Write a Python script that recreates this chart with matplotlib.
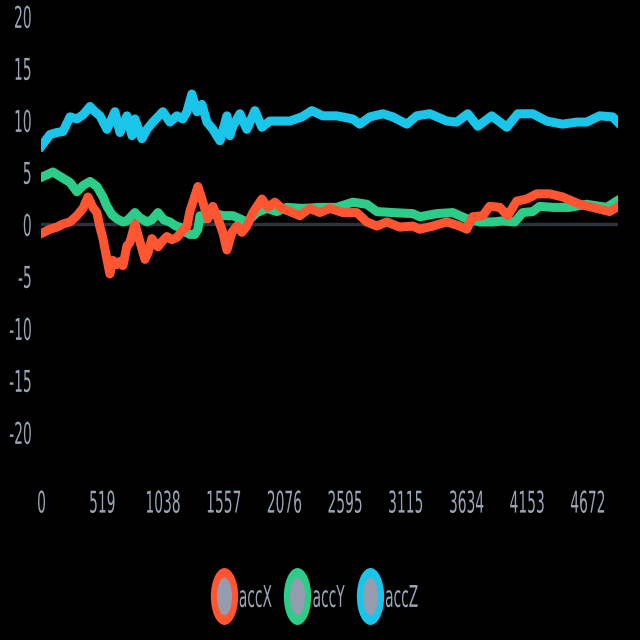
import matplotlib
matplotlib.use('Agg')
import matplotlib.pyplot as plt
from matplotlib import patheffects
from matplotlib.path import Path
from matplotlib.lines import Line2D
from matplotlib.legend_handler import HandlerTuple
from matplotlib.transforms import Affine2D

plt.rcParams['font.family'] = ['DejaVu Sans']
plt.rcParams['axes.unicode_minus'] = False


class Squeeze(patheffects.AbstractPathEffect):
    """把文字壓窄拉高 (原圖的字是被縮放過的)"""
    def __init__(self, sx=0.83, sy=1.8, anchor='center'):
        super().__init__()
        self.sx, self.sy, self.anchor = sx, sy, anchor

    def draw_path(self, renderer, gc, tpath, affine, rgbFace=None):
        ext = tpath.get_extents(affine)
        if self.anchor == 'right':
            cx = ext.x1
        elif self.anchor == 'left':
            cx = ext.x0
        else:
            cx = (ext.x0 + ext.x1) / 2
        cy = (ext.y0 + ext.y1) / 2
        t = affine + Affine2D().translate(-cx, -cy).scale(self.sx, self.sy).translate(cx, cy)
        renderer.draw_path(gc, tpath, t, rgbFace)


# 資料 (從圖上讀出的取樣點)
accX_idx = [0, 73, 132, 184, 244, 303, 355, 397, 440, 474, 500, 526, 560, 585, 611, 645,
            671, 697, 731, 756, 799, 842, 885, 910, 944, 996, 1038, 1073, 1115, 1158, 1209,
            1244, 1269, 1312, 1338, 1380, 1423, 1466, 1509, 1551, 1586, 1629, 1671, 1714,
            1756, 1808, 1885, 1936, 1996, 2056, 2124, 2209, 2295, 2380, 2466, 2577, 2697,
            2782, 2868, 2953, 3064, 3175, 3235, 3346, 3466, 3577, 3637, 3688, 3774, 3833,
            3919, 3987, 4064, 4149, 4235, 4346, 4457, 4602, 4748, 4859, 4918]
accX = [-0.9, -0.5, -0.3, 0.0, 0.2, 0.8, 1.5, 2.6, 1.6, 1.1, -0.3, -1.4, -3.4, -4.8, -3.5, -3.9,
        -3.6, -4.0, -2.1, -1.8, 0.0, -1.7, -3.4, -2.8, -1.4, -2.2, -1.6, -1.2, -1.5, -1.3, -0.6,
        -0.2, 1.2, 2.7, 3.6, 2.1, 0.5, 1.7, 0.5, -0.8, -2.5, -0.8, -0.2, -0.8,
        -0.2, 1.1, 2.4, 1.6, 2.1, 1.5, 1.2, 0.8, 1.5, 1.1, 1.5, 1.1, 1.1,
        0.2, -0.2, 0.2, -0.3, -0.2, -0.5, -0.2, 0.2, -0.2, -0.5, 0.7, 0.8, 1.7,
        1.6, 0.8, 2.2, 2.4, 2.9, 2.9, 2.6, 1.9, 1.5, 1.2, 1.6]

accY_idx = [0, 98, 184, 244, 303, 355, 415, 474, 526, 560, 603, 645, 697, 731, 799, 842,
            902, 944, 996, 1047, 1098, 1150, 1184, 1235, 1269, 1312, 1338, 1355, 1397, 1466,
            1551, 1637, 1697, 1756, 1842, 1927, 2013, 2098, 2235, 2380, 2526, 2662, 2782,
            2868, 3004, 3175, 3235, 3380, 3517, 3637, 3748, 3859, 3944, 4047, 4115, 4201,
            4260, 4372, 4517, 4662, 4833, 4918]
accY = [4.5, 5.0, 4.4, 4.0, 3.1, 3.7, 4.1, 3.6, 2.6, 1.7, 0.9, 0.5, 0.2, 0.3, 1.1, 0.6,
        0.2, 0.4, 1.1, 0.4, 0.2, -0.2, -0.3, -0.8, -1.0, -1.0, -0.5, 0.8, 0.5, 1.1,
        0.8, 0.8, 0.5, 0.2, 1.1, 1.5, 1.2, 1.6, 1.5, 1.6, 1.6, 2.1, 1.9,
        1.2, 1.1, 1.0, 0.7, 1.0, 1.1, 0.5, 0.2, 0.2, 0.3, 0.2, 1.1, 1.2,
        1.7, 1.6, 1.6, 1.9, 1.6, 2.2]

accZ_idx = [0, 73, 132, 184, 244, 303, 355, 415, 457, 500, 560, 628, 671, 731, 774, 799,
            859, 902, 953, 1038, 1098, 1158, 1209, 1244, 1286, 1329, 1372, 1415, 1466, 1526,
            1586, 1611, 1637, 1697, 1756, 1825, 1885, 1953, 2021, 2124, 2227, 2312, 2406,
            2526, 2662, 2722, 2808, 2919, 3004, 3124, 3209, 3321, 3466, 3551, 3645, 3731,
            3850, 3979, 4073, 4201, 4320, 4457, 4577, 4662, 4773, 4884, 4927]
accZ = [7.5, 8.6, 8.8, 8.9, 10.3, 10.1, 10.5, 11.3, 10.8, 10.4, 9.1, 10.8, 8.8, 10.4, 8.5, 10.1,
        8.2, 9.1, 9.8, 10.8, 9.8, 10.4, 10.1, 10.8, 12.5, 10.8, 11.5, 9.8, 9.1, 8.0,
        10.4, 8.5, 9.4, 10.6, 9.1, 10.9, 9.3, 9.9, 9.9, 9.9, 10.3, 10.9, 10.4,
        10.4, 10.1, 9.6, 10.3, 10.6, 10.3, 9.6, 10.4, 10.6, 9.9, 9.8, 10.6, 9.4,
        10.4, 9.3, 10.6, 10.6, 9.9, 9.6, 9.8, 9.8, 10.4, 10.3, 9.8]

x_ticks = [0, 519, 1038, 1557, 2076, 2595, 3115, 3634, 4153, 4672]
y_ticks = [-20, -15, -10, -5, 0, 5, 10, 15, 20]

c_x = '#ff5530'
c_y = '#2ccd88'
c_z = '#19c6ea'
txt_color = '#9ba4b6'

fig = plt.figure(figsize=(6.4, 6.4), dpi=100, facecolor='black')
ax = fig.add_axes([0.0648, 0.2437, 0.9008, 0.7313])
ax.set_facecolor('black')

ax.axhline(0, color='#2e323a', lw=2.5, zorder=1)
ax.plot(accY_idx, accY, color=c_y, lw=6.5, solid_joinstyle='round', zorder=2)
ax.plot(accX_idx, accX, color=c_x, lw=6.5, solid_joinstyle='round', zorder=3)
ax.plot(accZ_idx, accZ, color=c_z, lw=6.5, solid_joinstyle='round', zorder=4)

ax.set_xlim(0, 4930)
ax.set_ylim(-25, 20)
ax.set_xticks(x_ticks)
ax.set_yticks(y_ticks)
ax.tick_params(length=0, colors=txt_color, labelsize=12)
ax.tick_params(axis='y', pad=7)
ax.tick_params(axis='x', pad=7)
for s in ax.spines.values():
    s.set_visible(False)
for lab in ax.get_yticklabels():
    lab.set_path_effects([Squeeze(anchor='right')])
for lab in ax.get_xticklabels():
    lab.set_path_effects([Squeeze(anchor='center')])

# 圖例: 橢圓形標記 (外圈彩色, 內部灰色)
circ = Path.unit_circle()
outer = Path(circ.vertices * [0.48, 1.0], circ.codes)
inner = Path(circ.vertices * [0.4, 1.0], circ.codes)
handles = []
for c in [c_x, c_y, c_z]:
    o = Line2D([], [], ls='none', marker=outer, markersize=41, markerfacecolor=c,
               markeredgecolor=c, markeredgewidth=0)
    i = Line2D([], [], ls='none', marker=inner, markersize=27, markerfacecolor='#959cae',
               markeredgewidth=0)
    handles.append((o, i))
leg = fig.legend(handles, ['accX', 'accY', 'accZ'], loc='center', bbox_to_anchor=(0.5, 0.067),
                 ncol=3, frameon=False, handler_map={tuple: HandlerTuple(ndivide=1)},
                 handlelength=1.0, handletextpad=0.4, columnspacing=0.64,
                 labelcolor=txt_color, fontsize=12)
for t in leg.get_texts():
    t.set_path_effects([Squeeze(anchor='left')])

fig.savefig('out.png', dpi=100, facecolor='black')
